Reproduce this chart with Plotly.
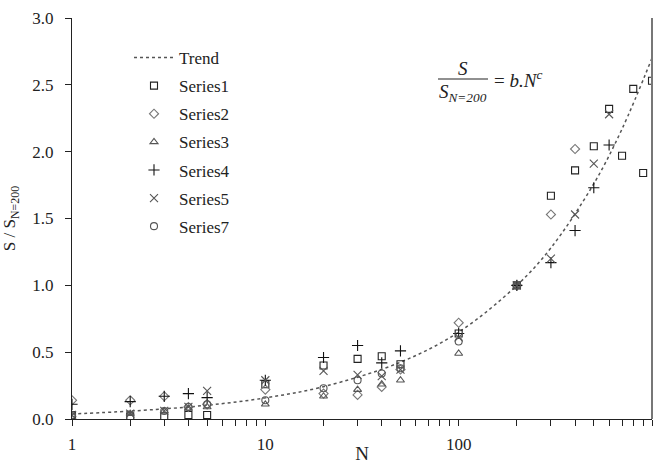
import plotly.graph_objects as go

# ---- data ----
trend_N = [1, 2, 5, 10, 20, 50, 100, 200, 300, 500, 700, 1000]
trend_v = [0.038, 0.059, 0.103, 0.158, 0.242, 0.425, 0.65, 1.0, 1.28, 1.76, 2.17, 2.70]

s1_N = [1, 2, 3, 4, 5, 10, 20, 30, 40, 50, 100, 200, 300, 400, 500, 600, 700, 800, 900, 1000]
s1_v = [0.03, 0.02, 0.02, 0.03, 0.03, 0.26, 0.40, 0.45, 0.47, 0.41, 0.64, 1.0, 1.67, 1.86, 2.04, 2.32, 1.97, 2.47, 1.84, 2.53]

s2_N = [1, 2, 3, 4, 5, 10, 20, 30, 40, 50, 100, 200, 300, 400]
s2_v = [0.14, 0.14, 0.17, 0.09, 0.11, 0.22, 0.19, 0.18, 0.24, 0.37, 0.72, 1.0, 1.53, 2.02]

s3_N = [1, 2, 3, 4, 5, 10, 20, 30, 40, 50, 100, 200]
s3_v = [0.03, 0.04, 0.06, 0.08, 0.09, 0.11, 0.17, 0.22, 0.26, 0.29, 0.49, 1.0]

s4_N = [1, 2, 3, 4, 5, 10, 20, 30, 40, 50, 100, 200, 300, 400, 500, 600]
s4_v = [0.11, 0.13, 0.17, 0.19, 0.16, 0.29, 0.46, 0.55, 0.42, 0.51, 0.64, 1.0, 1.17, 1.41, 1.73, 2.05]

s5_N = [1, 2, 3, 4, 5, 10, 20, 30, 40, 50, 100, 200, 300, 400, 500, 600]
s5_v = [0.03, 0.04, 0.06, 0.09, 0.21, 0.29, 0.36, 0.33, 0.32, 0.37, 0.61, 1.0, 1.20, 1.53, 1.91, 2.28]

s7_N = [1, 2, 3, 4, 5, 10, 20, 30, 40, 50, 100, 200]
s7_v = [0.03, 0.01, 0.06, 0.09, 0.11, 0.14, 0.23, 0.29, 0.34, 0.38, 0.58, 1.0]

x_ticks = [1, 10, 100, 1000]
x_minor = [2, 3, 4, 5, 6, 7, 8, 9, 20, 30, 40, 50, 60, 70, 80, 90,
           200, 300, 400, 500, 600, 700, 800, 900]

FONT = "Liberation Serif"

L, R, T, B = 72, 16, 18, 45
W, H = 668, 464
PW, PH = W - L - R, H - T - B


def px(x):
    return (x - L) / PW


def py(y):
    return (H - B - y) / PH


fig = go.Figure()
fig.add_trace(go.Scatter(x=trend_N, y=trend_v, mode="lines", name="Trend",
                         line=dict(color="#555555", width=1.5, dash="dot", shape="spline"),
                         legendgroup="g0"))

series = [
    ("Series1", s1_N, s1_v, "square-open", "#222222", 7),
    ("Series2", s2_N, s2_v, "diamond-open", "#777777", 7),
    ("Series3", s3_N, s3_v, "triangle-up-open", "#555555", 7),
    ("Series4", s4_N, s4_v, "cross-thin-open", "#111111", 8),
    ("Series5", s5_N, s5_v, "x-thin-open", "#555555", 8),
    ("Series7", s7_N, s7_v, "circle-open", "#555555", 7),
]
for i, (nm, xs, ys, sym, col, sz) in enumerate(series):
    fig.add_trace(go.Scatter(x=xs, y=ys, mode="markers", name=nm,
                             marker=dict(symbol=sym, size=sz, color=col,
                                         line=dict(color=col, width=1.1)),
                             legendgroup=f"g{i+1}"))

fig.update_layout(
    width=W, height=H,
    margin=dict(l=L, r=R, t=T, b=B),
    paper_bgcolor="white", plot_bgcolor="white",
    font=dict(family=FONT, size=17, color="#222222"),
    showlegend=True,
    legend=dict(x=px(129), y=py(40), xanchor="left", yanchor="top", itemwidth=40,
                bgcolor="rgba(0,0,0,0)", tracegroupgap=3,
                font=dict(family=FONT, size=17, color="#222222")),
    xaxis=dict(type="log", range=[0, 3], tickvals=x_ticks, ticktext=["1", "10", "100", "1000"],
               ticks="outside", ticklen=6, tickcolor="#222", showgrid=False, zeroline=False,
               showline=True, linecolor="#222", linewidth=1, automargin=False,
               tickfont=dict(family=FONT, size=17), ticklabelstandoff=4,
               minor=dict(tickvals=x_minor, ticks="outside", ticklen=6, tickcolor="#222", showgrid=False),
               title=dict(text="N", font=dict(family=FONT, size=19))),
    yaxis=dict(range=[0, 3], dtick=0.5, tickformat=".1f", ticks="outside", ticklen=6,
               tickcolor="#222", showgrid=False, zeroline=False, automargin=False,
               showline=True, linecolor="#222", linewidth=1, ticklabelstandoff=8,
               tickfont=dict(family=FONT, size=17),
               title=dict(text="S / S<sub>N=200</sub>", font=dict(family=FONT, size=17))),
)

# right border
fig.add_shape(type="line", xref="paper", yref="paper", x0=1, x1=1, y0=0, y1=1,
              line=dict(color="#777777", width=2))

# equation annotation
EQF = dict(family=FONT, size=19, color="#222")
fig.add_annotation(xref="paper", yref="paper", x=px(463), y=py(68), xanchor="center", yanchor="middle",
                   text="<i>S</i>", showarrow=False, font=EQF)
fig.add_shape(type="line", xref="paper", yref="paper", x0=px(438), x1=px(488),
              y0=py(79), y1=py(79), line=dict(color="#222", width=1.2))
fig.add_annotation(xref="paper", yref="paper", x=px(463), y=py(93), xanchor="center", yanchor="middle",
                   text="<i>S<sub>N=200</sub></i>", showarrow=False, font=EQF)
fig.add_annotation(xref="paper", yref="paper", x=px(492), y=py(79), xanchor="left", yanchor="middle",
                   text="= <i>b.N<sup>c</sup></i>", showarrow=False, font=EQF)

fig.write_html("out.html", config={"displayModeBar": False},
               post_script="document.body.style.margin='0';")
